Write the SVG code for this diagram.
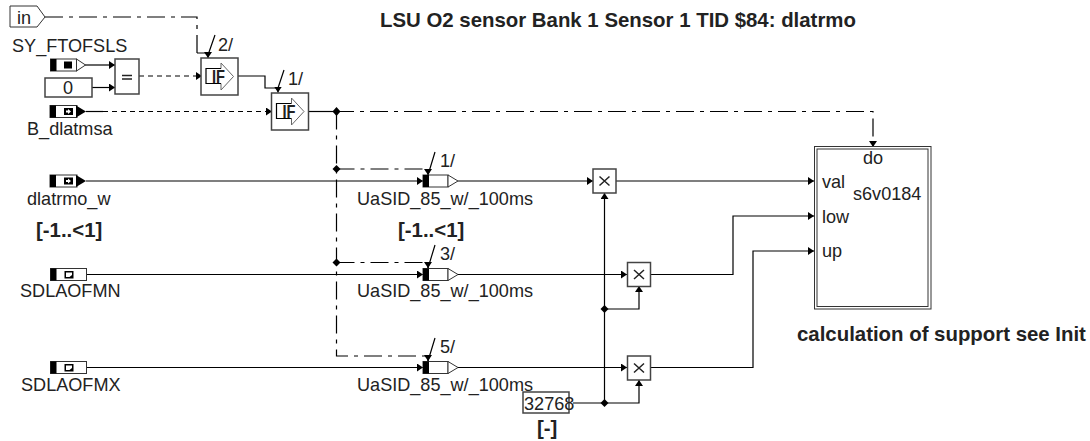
<svg xmlns="http://www.w3.org/2000/svg" width="1090" height="441" viewBox="0 0 1090 441">
<style>
text{font-family:"Liberation Sans",Arial,sans-serif;font-size:18.100px;fill:#222}
.b{font-weight:bold;font-size:20.400px}
.w{fill:none;stroke:#000;stroke-width:1.200}
.dd{fill:none;stroke:#000;stroke-width:1.200;stroke-dasharray:18 6 4 6}
.d{fill:none;stroke:#000;stroke-width:1.200;stroke-dasharray:5 4}
.box{fill:#fff;stroke:#444;stroke-width:1.500}
.blk{fill:#000}
.sym{fill:#fff;stroke:#333;stroke-width:1}
</style>
<defs>
<marker id="a" markerWidth="7" markerHeight="8" refX="6" refY="4" orient="auto" markerUnits="userSpaceOnUse"><path d="M0 0L6 4L0 8Z" fill="#000"/></marker>
<g id="mul"><rect class="box" x="0" y="0" width="23" height="24"/><path d="M6.500 7.500L16.500 16.500M16.500 7.500L6.500 16.500" stroke="#222" stroke-width="1.500"/></g>
<g id="ifb"><rect class="box" x="0" y="0" width="37" height="37"/><path d="M20 10.500V5L32.500 18.500L20 32V25.500" fill="#fff" stroke="#666" stroke-width="1"/><path d="M20 10.500H5V25.500H20" fill="#fff" stroke="#000" stroke-width="1.200"/><text x="11" y="25" style="font-weight:bold;font-size:18px" textLength="13" lengthAdjust="spacingAndGlyphs">IF</text></g>
<g id="rb"><rect class="sym" x="0" y="0" width="27" height="12"/><rect class="blk" x="0" y="0" width="6" height="12"/><path class="blk" d="M26 0L36 6L26 12Z"/><rect class="blk" x="14" y="2.500" width="9" height="7"/><path d="M16 5H18V3.500L21 6L18 8.500V7H16Z" fill="#fff"/></g>
<g id="cal"><rect class="sym" x="0" y="0" width="36" height="12"/><rect class="blk" x="0" y="0" width="6" height="12"/><rect class="blk" x="14" y="2.500" width="9" height="7.500"/><path d="M15.500 4H21.500V6.500L19 8.500H15.500Z" fill="#fff"/></g>
<g id="conv"><rect class="sym" x="0" y="0" width="25" height="12"/><rect class="blk" x="0" y="0" width="6" height="12"/><path class="sym" d="M25 0L35 6L25 12Z"/></g>
</defs>
<g id="connectors">
<path class="dd" d="M45 17H197V53"/>
<path class="w" d="M197 53H208V58" marker-end="url(#a)"/>
<path class="w" d="M85 65H115" marker-end="url(#a)"/>
<path class="w" d="M92 87.500H115" marker-end="url(#a)"/>
<path class="d" d="M139 76H202" marker-end="url(#a)"/>
<path class="w" d="M238 76H265V88H278V92.500" marker-end="url(#a)"/>
<path class="w" d="M86 111.500H103"/>
<path class="d" d="M103 111.500H272" marker-end="url(#a)"/>
<path class="w" d="M308 111.500H336"/>
<path class="dd" d="M336 111.500H873V147" marker-end="url(#a)"/>
<path class="dd" d="M336.500 111.500V356H428"/>
<path class="w" d="M428 356V361" marker-end="url(#a)"/>
<path class="dd" d="M336.500 169H428"/>
<path class="w" d="M428 169V175" marker-end="url(#a)"/>
<path class="dd" d="M336.500 262.500H428"/>
<path class="w" d="M428 262.500V268" marker-end="url(#a)"/>
<path class="w" d="M86 181H423" marker-end="url(#a)"/>
<path class="w" d="M86 274.500H423" marker-end="url(#a)"/>
<path class="w" d="M86 367.500H423" marker-end="url(#a)"/>
<path class="w" d="M458 181H593" marker-end="url(#a)"/>
<path class="w" d="M458 274.500H627" marker-end="url(#a)"/>
<path class="w" d="M458 367.500H627" marker-end="url(#a)"/>
<path class="w" d="M616 181H814" marker-end="url(#a)"/>
<path class="w" d="M651 274.500H733V216H814" marker-end="url(#a)"/>
<path class="w" d="M651 367.500H753V251H814" marker-end="url(#a)"/>
<path class="w" d="M604.500 403V193" marker-end="url(#a)"/>
<path class="w" d="M604.500 309H639V286" marker-end="url(#a)"/>
<path class="w" d="M573 403H639V380" marker-end="url(#a)"/>
<path class="w" d="M208 55L215 35M278 88L284 70M428 175L435 152M428 268L435 245M428 361L435 338"/>
<path class="blk" d="M336.500 107L340.500 111.500L336.500 116L332.500 111.500ZM336.500 165L340.500 169L336.500 173L332.500 169ZM336.500 258.500L340.500 262.500L336.500 266.500L332.500 262.500ZM604.500 305L608.500 309L604.500 313L600.500 309ZM604.500 399L608.500 403L604.500 407L600.500 403Z"/>
</g>
<g id="title"><text class="b" x="380" y="27">LSU O2 sensor Bank 1 Sensor 1 TID $84: dlatrmo</text></g>
<g id="in"><path class="sym" d="M10 6H37L45 17L37 27H10Z" stroke-width="1.300"/><text x="17" y="24">in</text></g>
<g id="SY_FTOFSLS"><text x="12" y="51.500">SY_FTOFSLS</text><rect class="sym" x="50.500" y="59" width="26" height="12"/><rect class="blk" x="50.500" y="59" width="6" height="12"/><rect class="blk" x="64" y="61.500" width="8" height="7"/><path class="sym" d="M76.500 59L85.500 65L76.500 71Z"/></g>
<g id="const0"><rect class="box" x="45" y="78" width="47" height="19"/><text x="63" y="94">0</text></g>
<g id="eq"><rect class="box" x="115" y="59" width="24" height="35"/><path d="M122 75.500H132M122 79H132" stroke="#222" stroke-width="1.600"/></g>
<g id="if2"><use href="#ifb" x="201" y="58"/><text x="218" y="51">2/</text></g>
<g id="if1"><use href="#ifb" x="271.500" y="93"/><text x="288" y="85">1/</text></g>
<g id="B_dlatmsa"><use href="#rb" x="50" y="105.500"/><text x="27" y="135">B_dlatmsa</text></g>
<g id="dlatrmo_w"><use href="#rb" x="50" y="175"/><text x="27" y="205">dlatrmo_w</text><text class="b" x="36" y="237">[-1..&lt;1]</text></g>
<g id="SDLAOFMN"><use href="#cal" x="50.500" y="268.500"/><text x="20" y="297">SDLAOFMN</text></g>
<g id="SDLAOFMX"><use href="#cal" x="50.500" y="361.500"/><text x="21" y="390.500">SDLAOFMX</text></g>
<g id="conv1"><use href="#conv" x="423" y="175"/><text x="440" y="167">1/</text><text x="357" y="205">UaSID_85_w/_100ms</text><text class="b" x="398" y="237">[-1..&lt;1]</text></g>
<g id="conv3"><use href="#conv" x="423" y="268.500"/><text x="440" y="260">3/</text><text x="357" y="297">UaSID_85_w/_100ms</text></g>
<g id="conv5"><use href="#conv" x="423" y="361.500"/><text x="440" y="353">5/</text><text x="357" y="390.500">UaSID_85_w/_100ms</text></g>
<g id="mul1"><use href="#mul" x="593" y="169"/></g>
<g id="mul2"><use href="#mul" x="627.500" y="262.500"/></g>
<g id="mul3"><use href="#mul" x="627.500" y="356"/></g>
<g id="c32768"><rect class="box" x="523" y="392" width="46" height="21"/><text x="524" y="409.500">32768</text><text class="b" x="537" y="435">[-]</text></g>
<g id="s6v0184"><rect class="sym" x="814.500" y="146.500" width="116.500" height="162.500" stroke-width="1.300"/><rect class="sym" x="817" y="149" width="111" height="157.500" stroke-width="1.300"/><text x="863" y="164">do</text><text x="822" y="188">val</text><text x="853" y="200">s6v0184</text><text x="822" y="223">low</text><text x="822" y="257">up</text></g>
<g id="note"><text class="b" x="797" y="341">calculation of support see Init</text></g>
</svg>
